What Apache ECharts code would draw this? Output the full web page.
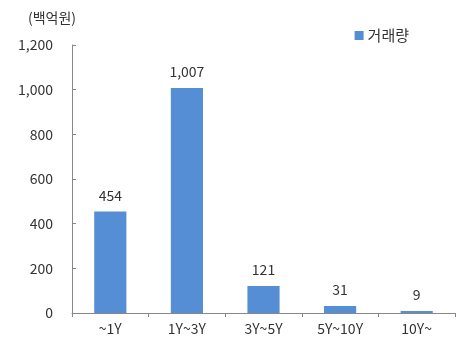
<!DOCTYPE html>
<html>
<head>
<meta charset="utf-8">
<script src="https://cdn.jsdelivr.net/npm/echarts@6/dist/echarts.min.js"></script>
<style>
  html, body { margin: 0; padding: 0; background: #fff; }
  #chart { width: 462px; height: 341px; }
</style>
</head>
<body>
<div id="chart"></div>
<script>
// Trading volume by maturity bucket (unit: 10 billion won)
const categories = ['~1Y', '1Y~3Y', '3Y~5Y', '5Y~10Y', '10Y~'];
const volumes = [454, 1007, 121, 31, 9];
const seriesName = '거래량';
const unitLabel = '(백억원)';

const FONT = '"Malgun Gothic", "Noto Sans CJK KR", "Noto Sans", sans-serif';
const chart = echarts.init(document.getElementById('chart'), null, { renderer: 'canvas' });

chart.setOption({
  animation: false,
  textStyle: { fontFamily: FONT },
  title: {
    text: unitLabel,
    left: 23,
    top: 6,
    textStyle: { fontSize: 14, fontWeight: 'normal', color: '#333', fontFamily: FONT }
  },
  legend: {
    data: [seriesName],
    right: 48,
    top: 23,
    itemWidth: 9,
    itemHeight: 9,
    itemGap: 4,
    icon: 'rect',
    textStyle: { fontSize: 15, color: '#333', fontFamily: FONT, padding: [0, 0, 0, -1] }
  },
  grid: { left: 72, right: 7, top: 45, bottom: 28, containLabel: false },
  xAxis: {
    type: 'category',
    data: categories,
    axisLine: { lineStyle: { color: '#888', width: 1 } },
    axisTick: { show: true, alignWithLabel: false, length: 4, lineStyle: { color: '#888' } },
    axisLabel: { fontSize: 14, color: '#333', margin: 9, fontFamily: FONT }
  },
  yAxis: {
    type: 'value',
    min: 0,
    max: 1200,
    interval: 200,
    axisLine: { show: true, lineStyle: { color: '#888', width: 1 } },
    axisTick: { show: true, inside: true, length: 4, lineStyle: { color: '#888' } },
    splitLine: { show: false },
    axisLabel: {
      fontSize: 14,
      color: '#333',
      margin: 19,
      fontFamily: FONT,
      formatter: v => v.toLocaleString('en-US')
    }
  },
  series: [{
    name: seriesName,
    type: 'bar',
    data: volumes,
    barWidth: '42%',
    itemStyle: { color: '#558ED5' },
    label: {
      show: true,
      position: 'top',
      distance: 9,
      fontSize: 14,
      color: '#333',
      fontFamily: FONT,
      formatter: p => p.value.toLocaleString('en-US')
    }
  }]
});
</script>
</body>
</html>
